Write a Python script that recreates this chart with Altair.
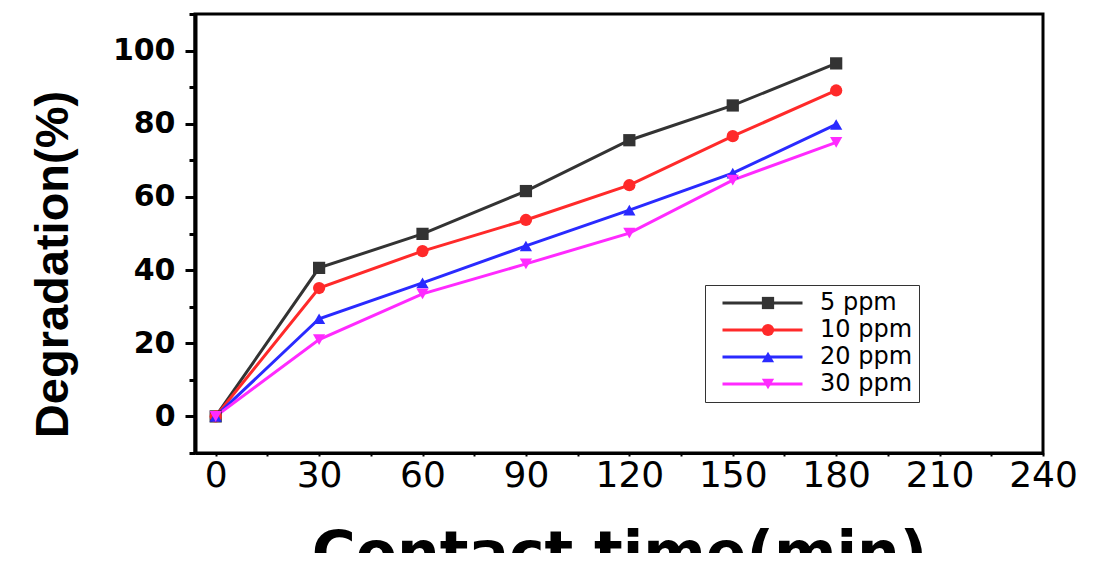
import altair as alt
import pandas as pd

# ---- data ----
times = [0, 30, 60, 90, 120, 150, 180]
series_names = ["5 ppm", "10 ppm", "20 ppm", "30 ppm"]
deg_5 = [0, 40.6, 49.9, 61.6, 75.5, 85.0, 96.5]
deg_10 = [0, 35.1, 45.2, 53.7, 63.2, 76.6, 89.1]
deg_20 = [0, 26.7, 36.5, 46.6, 56.4, 66.5, 79.8]
deg_30 = [0, 21.0, 33.5, 41.7, 50.1, 64.6, 74.9]
x_ticks = list(range(0, 241, 15))
y_ticks = list(range(-10, 111, 10))

colors = ["#333333", "#ff2a2a", "#2a2aff", "#ff2aff"]
shapes = ["square", "circle", "triangle-up", "triangle-down"]

rows = []
for name, vals in zip(series_names, [deg_5, deg_10, deg_20, deg_30]):
    for t, v in zip(times, vals):
        rows.append({"t": t, "d": v, "s": name, "m": name})
df = pd.DataFrame(rows)

x = alt.X(
    "t:Q",
    scale=alt.Scale(domain=[-6, 240], nice=False, zero=False),
    axis=alt.Axis(
        values=x_ticks,
        labelExpr="datum.value % 30 == 0 ? datum.label : ''",
        title="Contact time(min)",
        titleFont="DejaVu Sans",
        titleFontSize=60,
        titleFontWeight="bold",
        titleColor="black",
        titleBaseline="alphabetic",
        titleY=120,
        labelFont="DejaVu Sans",
        labelFontSize=36,
        labelColor="black",
        labelPadding=2,
        labelBaseline="top",
        labelFlush=False,
        labelOverlap=False,
        tickSize=3,
        tickWidth=2,
        tickColor="black",
        domainColor="black",
        domainWidth=3,
        grid=False,
    ),
)

y = alt.Y(
    "d:Q",
    scale=alt.Scale(domain=[-10, 110], nice=False, zero=False),
    axis=alt.Axis(
        values=y_ticks,
        labelExpr="(datum.value >= 0 && datum.value <= 100 && datum.value % 20 == 0) ? datum.label : ''",
        title="Degradation(%)",
        titleFont="Liberation Sans",
        titleFontSize=47,
        titleFontWeight="bold",
        titleColor="black",
        titleBaseline="alphabetic",
        titleAlign="center",
        titleAngle=270,
        titleX=-128,
        titleY=250,
        labelFont="DejaVu Sans",
        labelFontWeight="bold",
        labelFontSize=30,
        labelColor="black",
        labelPadding=10,
        labelOverlap=False,
        tickSize={"condition": {"test": "datum.value % 20 == 0", "value": 10}, "value": 6},
        tickWidth=3,
        tickColor="black",
        domainColor="black",
        domainWidth=4,
        grid=False,
    ),
)

lines = alt.Chart(df).mark_line(strokeWidth=3).encode(
    x=x,
    y=y,
    stroke=alt.Stroke(
        "s:N",
        sort=series_names,
        scale=alt.Scale(range=colors),
        legend=alt.Legend(
            orient="none",
            legendX=510,
            legendY=271,
            title=None,
            symbolType="stroke",
            symbolSize=6400,
            symbolStrokeWidth=3,
            clipHeight=24,
            labelFont="DejaVu Sans",
            labelFontSize=24,
            labelColor="black",
            labelOffset=16,
            symbolOffset=10,
            rowPadding=3,
            padding=6,
            strokeColor="#333333",
            fillColor="white",
        ),
    ),
)

marker_legend = alt.Legend(
    orient="none",
    legendX=510,
    legendY=271,
    title=None,
    symbolSize=150,
    clipHeight=24,
    labelExpr="' '",
    labelFont="DejaVu Sans",
    labelFontSize=24,
    labelOpacity=0,
    labelOffset=16,
    symbolOffset=45,
    rowPadding=3,
    padding=6,
)

points = alt.Chart(df).mark_point(filled=True, size=150, opacity=1).encode(
    x=x,
    y=y,
    fill=alt.Fill("m:N", scale=alt.Scale(domain=series_names, range=colors), legend=marker_legend),
    shape=alt.Shape("m:N", scale=alt.Scale(domain=series_names, range=shapes), legend=marker_legend),
)

chart = (
    alt.layer(lines, points)
    .properties(
        width=848,
        height=439,
        autosize=alt.AutoSizeParams(type="none"),
        padding={"left": 187, "top": 6, "right": 46, "bottom": 100},
        view=alt.ViewBackground(stroke="black", strokeWidth=3),
    )
    .configure_view(stroke="black", strokeWidth=3)
    .configure(background="white")
)

chart.save("out.html", embed_options={"renderer": "svg", "actions": False})
